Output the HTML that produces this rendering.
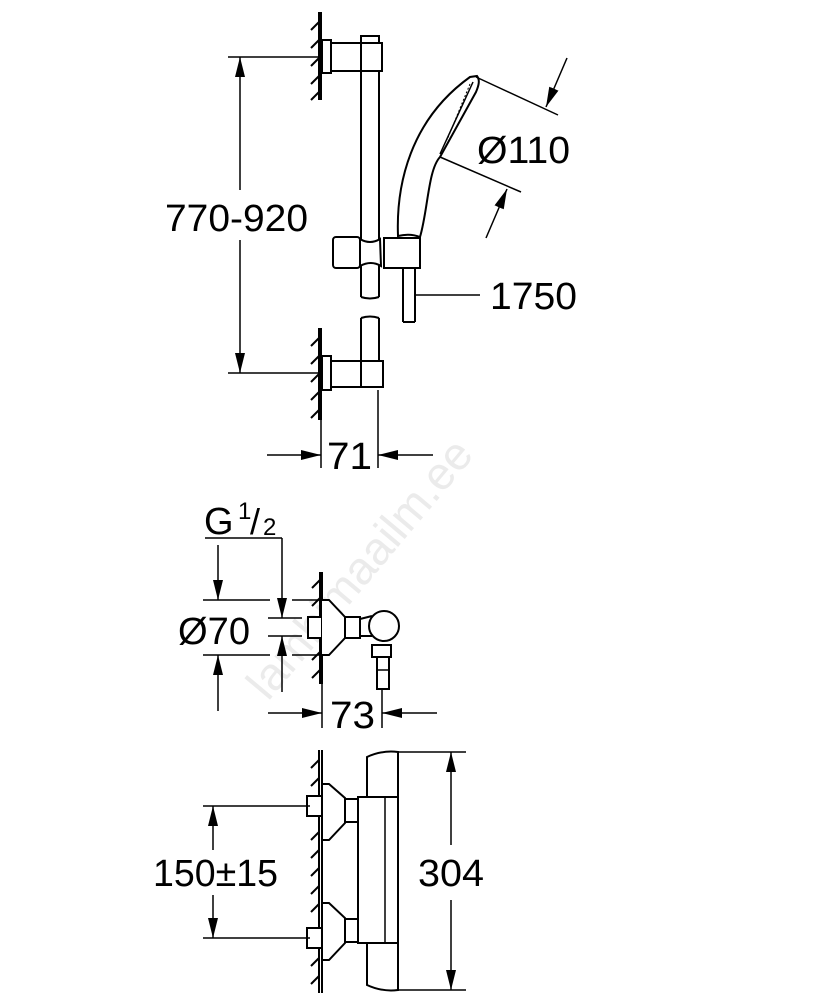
<!DOCTYPE html>
<html><head><meta charset="utf-8"><style>
html,body{margin:0;padding:0;background:#fff;}
svg{display:block;}
text{font-family:"Liberation Sans",sans-serif;fill:#000;}
</style></head><body>
<svg width="834" height="1000" viewBox="0 0 834 1000" xmlns="http://www.w3.org/2000/svg">
<defs>
<marker id="a" viewBox="0 0 20 10" refX="20" refY="5" markerWidth="20" markerHeight="10" markerUnits="userSpaceOnUse" orient="auto"><path d="M0,0 L20,5 L0,10 z" fill="#000"/></marker>
</defs>
<text x="268" y="702" font-size="46" style="fill:#ebebeb" transform="rotate(-50 268 702)">lambimaailm.ee</text>
<g stroke="#000" stroke-width="2" fill="none">
<line x1="321" y1="12" x2="321" y2="100"/>
<line x1="319" y1="12" x2="319" y2="100"/>
<path d="M319,22 l-8,8 M319,40 l-8,8 M319,58 l-8,8 M319,76 l-8,8 M319,92 l-8,8"/>
<line x1="321" y1="328" x2="321" y2="420"/>
<line x1="319" y1="328" x2="319" y2="420"/>
<path d="M319,338 l-8,8 M319,356 l-8,8 M319,374 l-8,8 M319,392 l-8,8 M319,410 l-8,8"/>
<rect x="322" y="40" width="9" height="33" fill="#fff"/>
<rect x="331" y="43" width="51" height="28" fill="#fff"/>
<line x1="361" y1="43" x2="361" y2="71"/>
<rect x="361" y="36" width="18" height="7" fill="#fff"/>
<line x1="361" y1="71" x2="361" y2="297"/>
<line x1="379" y1="71" x2="379" y2="297"/>
<path d="M361,297 q9,3 18,0"/>
<path d="M361,318 q9,-3 18,0"/>
<line x1="361" y1="318" x2="361" y2="361"/>
<line x1="379" y1="318" x2="379" y2="361"/>
<rect x="322" y="356" width="9" height="34" fill="#fff"/>
<rect x="331" y="361" width="52" height="26" fill="#fff"/>
<line x1="361" y1="361" x2="361" y2="387"/>
<rect x="333" y="237" width="27" height="31" rx="3" fill="#fff"/>
<path d="M360,239 q10,6 20,0 L381,266 q-10,-6 -21,0 z" fill="#fff"/>
<rect x="384" y="238" width="36" height="30" fill="#fff"/>
<line x1="403" y1="268" x2="403" y2="322"/>
<line x1="415" y1="268" x2="415" y2="322"/>
<line x1="403" y1="322" x2="415" y2="322"/>
<path d="M398,236 C396,185 410,120 470,77 L477,76 C480,80 479,85 476,92 L440,157 C428,170 428,210 420,237 Q410,233 398,236 z" fill="#fff"/>
<path d="M473,82 L440,154" stroke-width="1.5"/>
<path d="M470,84 L447,140" stroke-width="1" stroke-dasharray="2,2"/>
<line x1="228" y1="57" x2="321" y2="57" stroke-width="1.5"/>
<line x1="228" y1="373" x2="321" y2="373" stroke-width="1.5"/>
<line x1="240" y1="190" x2="240" y2="57" stroke-width="1.5" marker-end="url(#a)"/>
<line x1="240" y1="240" x2="240" y2="373" stroke-width="1.5" marker-end="url(#a)"/>
<line x1="321" y1="420" x2="321" y2="468" stroke-width="1.5"/>
<line x1="378" y1="390" x2="378" y2="468" stroke-width="1.5"/>
<line x1="267" y1="455" x2="321" y2="455" stroke-width="1.5" marker-end="url(#a)"/>
<line x1="433" y1="455" x2="378" y2="455" stroke-width="1.5" marker-end="url(#a)"/>
<line x1="476" y1="77" x2="558" y2="115" stroke-width="1.5"/>
<line x1="440" y1="157" x2="521" y2="192" stroke-width="1.5"/>
<line x1="567" y1="58" x2="546" y2="107" stroke-width="1.5" marker-end="url(#a)"/>
<line x1="486" y1="238" x2="507" y2="189" stroke-width="1.5" marker-end="url(#a)"/>
<line x1="416" y1="295" x2="480" y2="295" stroke-width="1.5"/>

<line x1="322" y1="572" x2="322" y2="684"/>
<line x1="320" y1="572" x2="320" y2="684"/>
<path d="M320,580 l-8,8 M320,598 l-8,8 M320,652 l-8,8 M320,670 l-8,8"/>
<rect x="308" y="617" width="14" height="21" fill="#fff"/>
<path d="M322,600 L329,600 L345,617 L345,638 L329,655 L322,655" fill="#fff"/>
<rect x="345" y="617" width="15" height="21" fill="#fff"/>
<path d="M360,619 L372,616 M360,636 L372,636"/>
<circle cx="384" cy="626" r="15" fill="#fff"/>
<rect x="372" y="645" width="19" height="12" fill="#fff"/>
<rect x="377" y="657" width="12" height="32" fill="#fff"/>
<line x1="377" y1="670" x2="389" y2="670" stroke-width="1.5"/>
<line x1="205" y1="538" x2="282" y2="538" stroke-width="1.5"/>
<line x1="282" y1="538" x2="282" y2="618" stroke-width="1.5" marker-end="url(#a)"/>
<line x1="218" y1="545" x2="218" y2="600" stroke-width="1.5" marker-end="url(#a)"/>
<line x1="203" y1="600" x2="270" y2="600" stroke-width="1.5"/>
<line x1="292" y1="600" x2="320" y2="600" stroke-width="1.5"/>
<line x1="203" y1="655" x2="270" y2="655" stroke-width="1.5"/>
<line x1="292" y1="655" x2="320" y2="655" stroke-width="1.5"/>
<line x1="268" y1="618" x2="302" y2="618" stroke-width="1.5"/>
<line x1="268" y1="636" x2="302" y2="636" stroke-width="1.5"/>
<line x1="218" y1="711" x2="218" y2="655" stroke-width="1.5" marker-end="url(#a)"/>
<line x1="282" y1="692" x2="282" y2="636" stroke-width="1.5" marker-end="url(#a)"/>
<line x1="322" y1="684" x2="322" y2="728" stroke-width="1.5"/>
<line x1="382" y1="690" x2="382" y2="728" stroke-width="1.5"/>
<line x1="268" y1="713" x2="322" y2="713" stroke-width="1.5" marker-end="url(#a)"/>
<line x1="437" y1="713" x2="382" y2="713" stroke-width="1.5" marker-end="url(#a)"/>

<line x1="322" y1="750" x2="322" y2="993"/>
<line x1="319" y1="750" x2="319" y2="993"/>
<path d="M319,760 l-8,8 M319,778 l-8,8 M319,832 l-8,8 M319,850 l-8,8 M319,868 l-8,8 M319,886 l-8,8 M319,904 l-8,8 M319,958 l-8,8 M319,976 l-8,8"/>
<rect x="307" y="796" width="15" height="20" fill="#fff"/>
<rect x="307" y="928" width="15" height="20" fill="#fff"/>
<path d="M323,784 L329,784 L345,798 L345,823 L329,840 L323,840" fill="#fff"/>
<path d="M323,903 L329,903 L345,918 L345,943 L329,960 L323,960" fill="#fff"/>
<rect x="345" y="799" width="14" height="23" fill="#fff"/>
<rect x="345" y="919" width="14" height="23" fill="#fff"/>
<path d="M367,797 L367,757 Q382,750 398,752 L398,797"/>
<path d="M367,943 L367,985 Q382,992 398,990 L398,943"/>
<rect x="358" y="797" width="40" height="146" fill="#fff"/>
<line x1="385" y1="797" x2="385" y2="943" stroke-width="1.5"/>
<line x1="398" y1="752" x2="466" y2="752" stroke-width="1.5"/>
<line x1="398" y1="990" x2="466" y2="990" stroke-width="1.5"/>
<line x1="451" y1="845" x2="451" y2="752" stroke-width="1.5" marker-end="url(#a)"/>
<line x1="451" y1="900" x2="451" y2="990" stroke-width="1.5" marker-end="url(#a)"/>
<line x1="203" y1="806" x2="310" y2="806" stroke-width="1.5"/>
<line x1="203" y1="938" x2="310" y2="938" stroke-width="1.5"/>
<line x1="213" y1="850" x2="213" y2="806" stroke-width="1.5" marker-end="url(#a)"/>
<line x1="213" y1="895" x2="213" y2="938" stroke-width="1.5" marker-end="url(#a)"/>
</g>
<g font-size="38">
<text x="165" y="231" textLength="143" lengthAdjust="spacingAndGlyphs">770-920</text>
<text x="327" y="469" textLength="45" lengthAdjust="spacingAndGlyphs">71</text>
<text x="477" y="163" textLength="93" lengthAdjust="spacingAndGlyphs">Ø110</text>
<text x="490" y="309" textLength="87" lengthAdjust="spacingAndGlyphs">1750</text>
<text x="204" y="534">G</text>
<text x="238" y="519" font-size="24">1</text>
<text x="250" y="534" font-size="36">/</text>
<text x="263" y="535" font-size="24">2</text>
<text x="178" y="644" textLength="72" lengthAdjust="spacingAndGlyphs">Ø70</text>
<text x="330" y="728" textLength="45" lengthAdjust="spacingAndGlyphs">73</text>
<text x="153" y="886" textLength="125" lengthAdjust="spacingAndGlyphs">150±15</text>
<text x="418" y="886" textLength="66" lengthAdjust="spacingAndGlyphs">304</text>
</g>
</svg>
</body></html>
